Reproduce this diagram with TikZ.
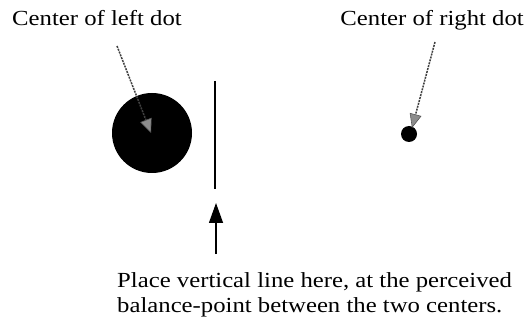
\documentclass[tikz,border=0pt]{standalone}
\usepackage{fontspec}
\setmainfont{Liberation Serif}[FakeStretch=1.15]
\usetikzlibrary{arrows.meta}
\begin{document}
\begin{tikzpicture}[x=1pt,y=-1pt,
  lbl/.style={inner sep=0pt,font=\fontsize{21.5}{25}\selectfont},
  pointer/.style={draw=black!75,line width=1.5pt,dash pattern=on 2pt off 1pt,
    -{Triangle[length=14pt,width=12pt,fill=black!45,color=black!65,line width=0.6pt]}},
  dot/.style={circle,fill=black,inner sep=0pt}]
\useasboundingbox (0,0) rectangle (532,320);
\node[lbl,anchor=base west] (lt) at (12,26) {Center of left dot};
\node[lbl,anchor=base east] (rt) at (524,26) {Center of right dot};
\node[dot,minimum size=80pt] (ld) at (152,133) {};
\node[dot,minimum size=16pt] (rd) at (409,134) {};
\coordinate (ltip) at (151,133);
\coordinate (rtip) at (412,128);
\coordinate (lstart) at (117,46);
\coordinate (rstart) at (435,42);
\draw[pointer] (lstart) -- (ltip);
\draw[pointer] (rstart) -- (rtip);
\coordinate (vtop) at (215,81);
\coordinate (vbot) at (215,189);
\draw[line width=1.6pt] (vtop) -- (vbot);
\coordinate (abot) at (216,254);
\coordinate (atop) at (216,203);
\draw[line width=1.3pt,-{Triangle[length=20pt,width=14pt]}] (abot) -- (atop);
\node[lbl,anchor=north west,align=left] (cap) at (117,272) {Place vertical line here, at the perceived\\balance-point between the two centers.};
\end{tikzpicture}
\end{document}
